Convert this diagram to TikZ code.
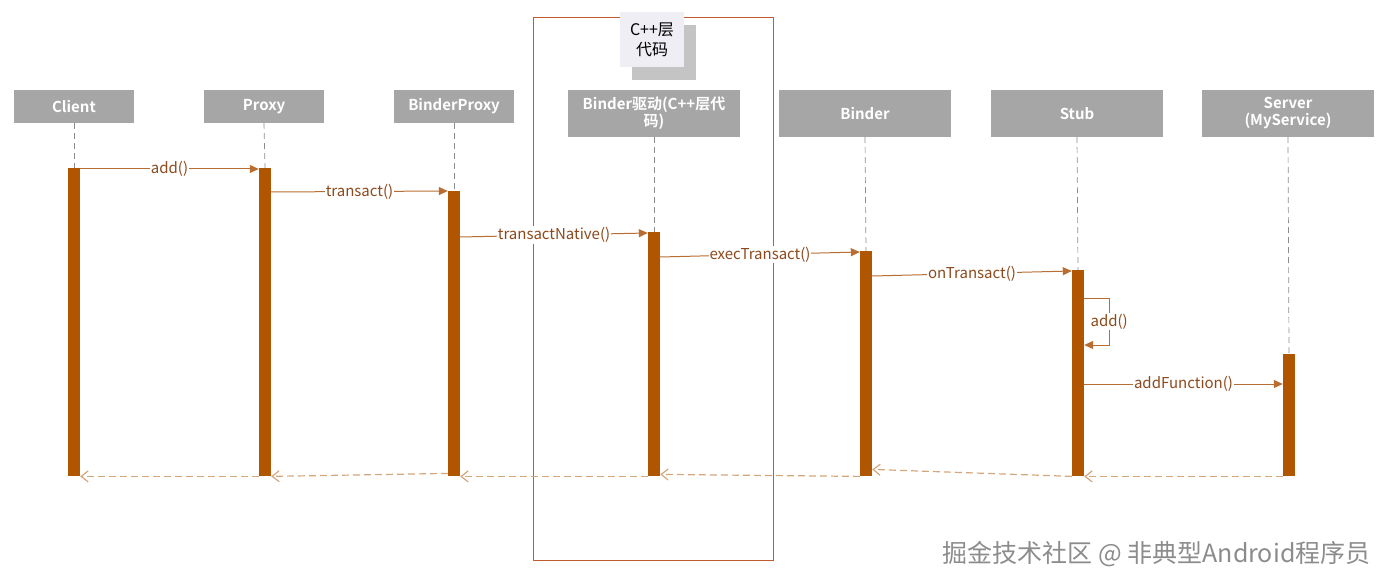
\documentclass[tikz,border=0pt]{standalone}
\usepackage{fontspec}
\setmainfont{Noto Sans CJK SC}[BoldFont={Noto Sans CJK SC Bold}]
\usetikzlibrary{arrows.meta,positioning,shadows}
\definecolor{Head}{HTML}{A6A6A6}
\definecolor{Bar}{HTML}{B05500}
\definecolor{Call}{HTML}{B86E33}
\definecolor{CallText}{HTML}{8E4A1C}
\definecolor{Ret}{HTML}{D4A67C}
\definecolor{Frame}{HTML}{C25A2E}
\definecolor{Note}{HTML}{EEEEF4}
\definecolor{Shade}{HTML}{C4C4C4}
\definecolor{Life}{HTML}{8C8C8C}

\begin{document}
\begin{tikzpicture}[x=1pt,y=-1pt,
    head/.style={fill=Head,text=white,font=\fontsize{15}{17}\selectfont\bfseries,align=center,inner sep=2pt},
    bar/.style={fill=Bar,anchor=north,minimum width=12,inner sep=0pt},
    life/.style={draw=Life,dash pattern=on 6pt off 4pt,line width=.7pt},
    call/.style={draw=Call,line width=1pt,-{Triangle[length=9pt,width=8pt]}},
    ret/.style={draw=Ret,line width=1.2pt,dash pattern=on 7pt off 4pt,-{Straight Barb[length=7pt,width=11pt]}},
    lbl/.style={fill=white,text=CallText,inner sep=1pt,font=\fontsize{15}{17}\selectfont}]
  \useasboundingbox (0,0) rectangle (1392,588);
  % C++ frame and note
  \draw[Frame,line width=.9pt] (533,17) rectangle (773,560);
  \node[fill=Note,minimum width=64,minimum height=55,align=center,font=\fontsize{16}{20}\selectfont,
    drop shadow={shadow xshift=12pt,shadow yshift=-13pt,fill=Shade,opacity=1}] (note) at (652,39.5) {C++层\\代码};
  % participants
  \node[head,minimum width=120,minimum height=33] (client) at (74,106.5) {Client};
  \node[head,minimum width=120,minimum height=33] (proxy) at (264,106.5) {Proxy};
  \node[head,minimum width=120,minimum height=33] (bproxy) at (454,106.5) {BinderProxy};
  \node[head,minimum width=172,minimum height=47] (driver) at (654,113.5) {Binder驱动(C++层代\\码)};
  \node[head,minimum width=172,minimum height=47] (binder) at (865,113.5) {Binder};
  \node[head,minimum width=172,minimum height=47] (stub) at (1077,113.5) {Stub};
  \node[head,minimum width=172,minimum height=47] (server) at (1288,113.5) {Server\\(MyService)};
  % activations
  \node[bar,minimum height=308] (clientbar) at (74,168) {};
  \node[bar,minimum height=308] (proxybar) at (265,168) {};
  \node[bar,minimum height=285] (bproxybar) at (454,191) {};
  \node[bar,minimum height=244] (driverbar) at (654,232) {};
  \node[bar,minimum height=225] (binderbar) at (866,251) {};
  \node[bar,minimum height=206] (stubbar) at (1078,270) {};
  \node[bar,minimum height=122] (serverbar) at (1289,354) {};
  % lifelines
  \foreach \p in {client,proxy,bproxy,driver,binder,stub,server}
    \draw[life] (\p.south) -- (\p bar.north);
  % calls
  \draw[call] ([yshift=-1pt]clientbar.north east) -- node[lbl]{add()} ([yshift=-1pt]proxybar.north west);
  \draw[call] ([yshift=-1pt]proxybar.north east|-bproxybar.north) -- node[lbl]{transact()} (bproxybar.north west);
  \draw[call] ([yshift=-46pt]bproxybar.north east) -- node[lbl]{transactNative()} ([yshift=-1pt]driverbar.north west);
  \draw[call] ([yshift=-25pt]driverbar.north east) -- node[lbl]{execTransact()} ([yshift=-1pt]binderbar.north west);
  \draw[call] ([yshift=-25pt]binderbar.north east) -- node[lbl]{onTransact()} ([yshift=-1pt]stubbar.north west);
  \draw[call] ([yshift=-28pt]stubbar.north east) -- ++(25,0) -- node[lbl]{add()} ++(0,47) -- ++(-25,0);
  \draw[call] ([yshift=-114pt]stubbar.north east) -- node[lbl]{addFunction()} ([yshift=-30pt]serverbar.north west);
  % returns
  \draw[ret] (serverbar.south west) -- (stubbar.south east);
  \draw[ret] (stubbar.south west) -- ([yshift=7pt]binderbar.south east);
  \draw[ret] (binderbar.south west) -- ([yshift=2pt]driverbar.south east);
  \draw[ret] (driverbar.south west) -- (bproxybar.south east);
  \draw[ret] ([yshift=3pt]bproxybar.south west) -- (proxybar.south east);
  \draw[ret] (proxybar.south west) -- (clientbar.south east);
  % watermark
  \node[anchor=east,text=black!45,font=\fontsize{25}{27}\selectfont] (mark) at (1374,554) {掘金技术社区 @ 非典型Android程序员};
\end{tikzpicture}
\end{document}
